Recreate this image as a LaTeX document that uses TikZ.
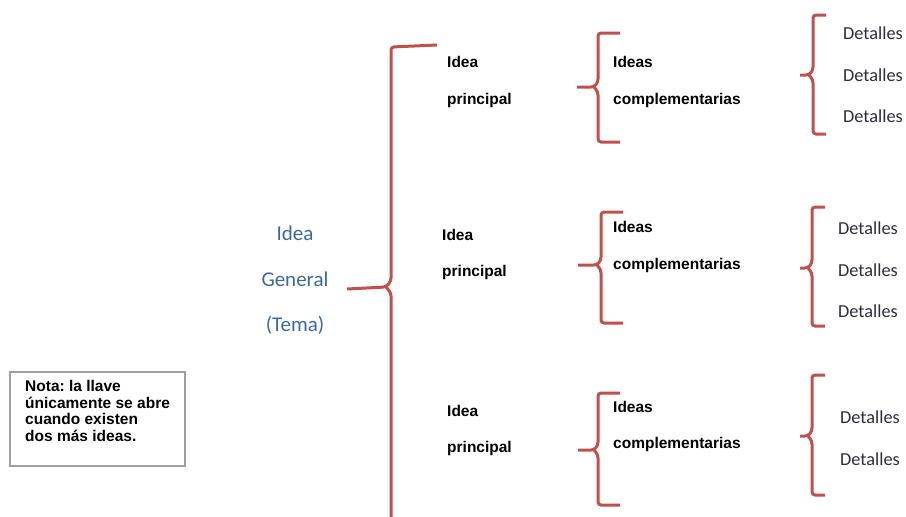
\documentclass[tikz,border=0pt]{standalone}
\usepackage{fontspec}
\setmainfont{Liberation Sans}
\newfontfamily\calib{Carlito}
\definecolor{brc}{RGB}{192,80,77}
\definecolor{tblue}{RGB}{60,104,162}
\definecolor{tdet}{RGB}{45,45,60}
\definecolor{boxg}{RGB}{160,160,160}
\frenchspacing
\newcommand\mybrace[6]{%
  \draw[brace] ({#1+#6},#2) -- (#1,#2) -- (#1,{#4-5}) -- ({#1-4},#4) -- (#5,#4);
  \draw[brace] ({#1-4},#4) -- (#1,{#4+5}) -- (#1,#3) -- ({#1+#6},#3);}
\begin{document}
\begin{tikzpicture}[x=1pt,y=-1pt,
  brace/.style={draw=brc, line width=3pt, rounded corners=3pt},
  gen/.style={font=\calib\fontsize{21}{23}\selectfont, text=tblue, inner sep=0pt},
  lab/.style={font=\bfseries\fontsize{15.5}{17}\selectfont, anchor=west, inner sep=0pt},
  det/.style={font=\calib\fontsize{18.3}{20}\selectfont, text=tdet, anchor=west, inner sep=0pt},
  notabox/.style={draw=boxg, line width=2pt, minimum width=175pt, minimum height=94pt, inner sep=0pt},
  notatext/.style={font=\bfseries\fontsize{15.5}{16.7}\selectfont, align=left, inner sep=0pt}]
\useasboundingbox (0,0) rectangle (906,517);
\fill[white] (0,0) rectangle (906,517);

% general idea
\node[gen] (g1) at (295,233) {Idea};
\node[gen] (g2) at (295,279) {General};
\node[gen] (g3) at (295,325) {(Tema)};

% main brace
\draw[brace] (437,45) -- (391,47) -- (391,281) -- (386,287) -- (347,289);
\draw[brace] (386,287) -- (391,293) -- (391,517);

% principal ideas
\node[lab] (p1a) at (447,62) {Idea};
\node[lab] (p1b) at (447,100) {principal};
\node[lab] (p2a) at (442,235) {Idea};
\node[lab] (p2b) at (442,272) {principal};
\node[lab] (p3a) at (447,411) {Idea};
\node[lab] (p3b) at (447,448) {principal};

% complementary braces
\mybrace{598}{33}{142}{87}{577}{22}
\mybrace{601}{212}{323}{265}{578}{22}
\mybrace{598}{393}{505}{450}{578}{22}

\node[lab] (c1a) at (613,62) {Ideas};
\node[lab] (c1b) at (613,100) {complementarias};
\node[lab] (c2a) at (613,227) {Ideas};
\node[lab] (c2b) at (613,265) {complementarias};
\node[lab] (c3a) at (613,407) {Ideas};
\node[lab] (c3b) at (613,444) {complementarias};

% detail braces
\mybrace{813}{15}{134}{75}{800}{13}
\mybrace{812}{207}{326}{268}{800}{13}
\mybrace{812}{375}{495}{436}{800}{13}

\node[det] (d11) at (843,33) {Detalles};
\node[det] (d12) at (843,75) {Detalles};
\node[det] (d13) at (843,116) {Detalles};
\node[det] (d21) at (838,228) {Detalles};
\node[det] (d22) at (838,270) {Detalles};
\node[det] (d23) at (838,311) {Detalles};
\node[det] (d31) at (840,417) {Detalles};
\node[det] (d32) at (840,459) {Detalles};

% note
\node[notabox] (nota) at (97.5,419) {};
\node[notatext, anchor=north west] (notat) at (25,380) {Nota: la llave\\únicamente se abre\\cuando existen\\dos más ideas.};
\end{tikzpicture}
\end{document}
